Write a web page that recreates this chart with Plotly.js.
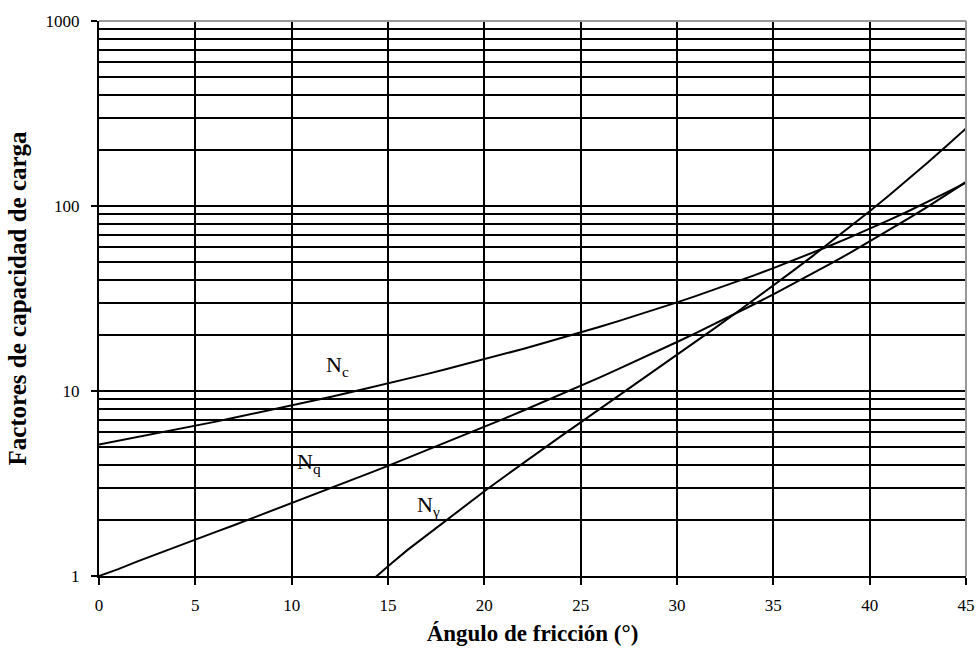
<!DOCTYPE html>
<html>
<head>
<meta charset="utf-8">
<script src="https://cdn.plot.ly/plotly-3.0.1.min.js"></script>
<style>html,body{margin:0;padding:0;background:#fff;}#chart{width:976px;height:660px;}</style>
</head>
<body>
<div id="chart"></div>
<script>
// Friction angle (degrees)
const angles = [0,1,2,3,4,5,6,7,8,9,10,11,12,13,14,15,16,17,18,19,20,21,22,23,24,25,26,27,28,29,30,31,32,33,34,35,36,37,38,39,40,41,42,43,44,45];
// Bearing capacity factors
const Nc = [5.14,5.38,5.63,5.90,6.19,6.49,6.81,7.16,7.53,7.92,8.35,8.80,9.28,9.81,10.37,10.98,11.63,12.34,13.10,13.93,14.83,15.82,16.88,18.05,19.32,20.72,22.25,23.94,25.80,27.86,30.14,32.67,35.49,38.64,42.16,46.12,50.59,55.63,61.35,67.87,75.31,83.86,93.71,105.11,118.37,133.88];
const Nq = [1.00,1.09,1.20,1.31,1.43,1.57,1.72,1.88,2.06,2.25,2.47,2.71,2.97,3.26,3.59,3.94,4.34,4.77,5.26,5.80,6.40,7.07,7.82,8.66,9.60,10.66,11.85,13.20,14.72,16.44,18.40,20.63,23.18,26.09,29.44,33.30,37.75,42.92,48.93,55.96,64.20,73.90,85.38,99.02,115.31,134.88];
const Ng = [null,0.002,0.01,0.02,0.04,0.07,0.11,0.15,0.21,0.28,0.37,0.47,0.60,0.74,0.92,1.13,1.38,1.66,2.00,2.40,2.87,3.42,4.07,4.82,5.72,6.77,8.00,9.46,11.19,13.24,15.67,18.56,22.02,26.17,31.15,37.15,44.43,53.27,64.07,77.33,93.69,113.99,139.32,171.14,211.41,262.74];

const xTicks = [0,5,10,15,20,25,30,35,40,45];
const yTicks = [1,10,100,1000];
const yTickText = ['1','10','100','1000'];

const curveLabels = ['N<sub>c</sub>','N<sub>q</sub>','N<sub>γ</sub>'];
const labelX = [12.4, 10.9, 17.1];
const labelY = [13.6, 4.1, 2.4];

const serif = 'Liberation Serif, Times New Roman, serif';
const lineStyle = {color:'#000', width:2};

const traces = [
  {x: angles, y: Nc, mode:'lines', line: lineStyle, name:'Nc', hoverinfo:'x+y'},
  {x: angles, y: Nq, mode:'lines', line: lineStyle, name:'Nq', hoverinfo:'x+y'},
  {x: angles, y: Ng, mode:'lines', line: lineStyle, name:'Nγ', hoverinfo:'x+y', connectgaps:false}
];

const layout = {
  width: 976, height: 660,
  margin: {l: 99, r: 10, t: 21, b: 84},
  paper_bgcolor: '#fff', plot_bgcolor: '#fff',
  showlegend: false,
  font: {family: serif, color: '#000', size: 17},
  xaxis: {
    range: [0, 45],
    tickvals: xTicks,
    ticks: 'outside', ticklen: 7, tickwidth: 2, tickcolor: '#000',
    showline: true, linecolor: '#000', linewidth: 2,
    showgrid: true, gridcolor: '#000', gridwidth: 2,
    zeroline: false,
    tickfont: {family: serif, size: 17, color: '#000'},
    ticklabelstandoff: 6,
    title: {text: '<b>Ángulo de fricción (°)</b>', font: {family: serif, size: 23, color: '#000'}, standoff: 10}
  },
  yaxis: {
    type: 'log',
    range: [0, 3],
    tickvals: yTicks, ticktext: yTickText,
    ticks: 'outside', ticklen: 6, tickwidth: 2, tickcolor: '#000',
    showline: true, linecolor: '#000', linewidth: 2,
    showgrid: true, gridcolor: '#000', gridwidth: 2,
    minor: {dtick: 'D1', showgrid: true, gridcolor: '#000', gridwidth: 2, ticks: ''},
    zeroline: false,
    tickfont: {family: serif, size: 17, color: '#000'},
    ticklabelstandoff: 8,
    title: {text: '<b>Factores de capacidad de carga</b>', font: {family: serif, size: 25, color: '#000'}, standoff: 12}
  },
  shapes: [
    {type:'line', xref:'paper', yref:'paper', x0:0, x1:1, y0:1, y1:1, line:{color:'#999', width:2}, layer:'above'},
    {type:'line', xref:'paper', yref:'paper', x0:1, x1:1, y0:0, y1:1, line:{color:'#999', width:2}, layer:'above'}
  ],
  annotations: curveLabels.map((t, i) => ({
    x: labelX[i], y: Math.log10(labelY[i]), xref:'x', yref:'y',
    text: t, showarrow: false,
    font: {family: serif, size: 22, color: '#000'},
    bgcolor: 'rgba(0,0,0,0)'
  }))
};

Plotly.newPlot('chart', traces, layout, {displayModeBar: false, staticPlot: true});
</script>
</body>
</html>
